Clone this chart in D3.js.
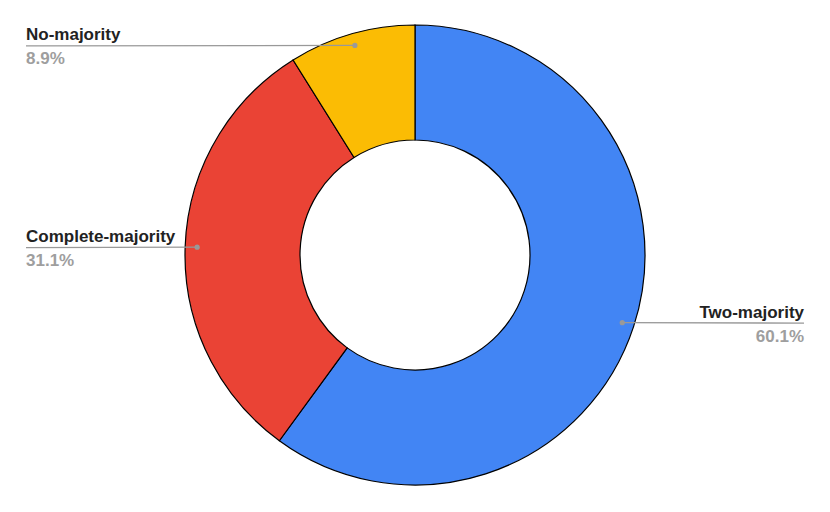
<!DOCTYPE html>
<html>
<head>
<meta charset="utf-8">
<script src="https://cdn.jsdelivr.net/npm/d3@7"></script>
<style>
  body { margin: 0; background: #fff; }
  text { font-family: "Liberation Sans", Arial, sans-serif; font-weight: bold; font-size: 17px; }
</style>
</head>
<body>
<svg id="chart" width="830" height="512"></svg>
<script>
// chart data, clockwise from 12 o'clock
var categories = ["Two-majority", "Complete-majority", "No-majority"];
var values = [60.1, 31.1, 8.9];
var colors = ["#4285f4", "#ea4335", "#fbbc04"];

var width = 830, height = 512;
var cx = 415, cy = 255, outerR = 230, innerR = 115;

var svg = d3.select("#chart");
var g = svg.append("g").attr("transform", "translate(" + cx + "," + cy + ")");

var pie = d3.pie().sort(null).value(function (d) { return d.value; });
var data = pie(categories.map(function (c, i) { return { name: c, value: values[i], color: colors[i] }; }));

var arc = d3.arc().innerRadius(innerR).outerRadius(outerR);
var dotArc = d3.arc().innerRadius(218).outerRadius(218);

// slices
g.selectAll("path.slice")
    .data(data)
    .enter()
    .append("path")
    .attr("class", "slice")
    .attr("d", arc)
    .attr("fill", function (d) { return d.data.color; })
    .attr("stroke", "#000")
    .attr("stroke-width", 1.2);

// labels: left side ones go to x=26, right side ones end at x=804
var labels = svg.append("g");
data.forEach(function (d) {
    var c = dotArc.centroid(d);
    var px = cx + c[0], py = cy + c[1];
    var right = c[0] > 0;
    var tx = right ? 804 : 26;
    var anchor = right ? "end" : "start";

    labels.append("line")
        .attr("x1", tx).attr("y1", py + 0.5)
        .attr("x2", px).attr("y2", py)
        .attr("stroke", "#999")
        .attr("stroke-width", 1.3);
    labels.append("circle")
        .attr("cx", px).attr("cy", py)
        .attr("r", 2.6)
        .attr("fill", "#999");
    labels.append("text")
        .attr("x", tx).attr("y", py - 5)
        .attr("text-anchor", anchor)
        .attr("fill", "#222")
        .text(d.data.name);
    labels.append("text")
        .attr("x", tx).attr("y", py + 19)
        .attr("text-anchor", anchor)
        .attr("fill", "#9e9e9e")
        .text(d.data.value.toFixed(1) + "%");
});
</script>
</body>
</html>
